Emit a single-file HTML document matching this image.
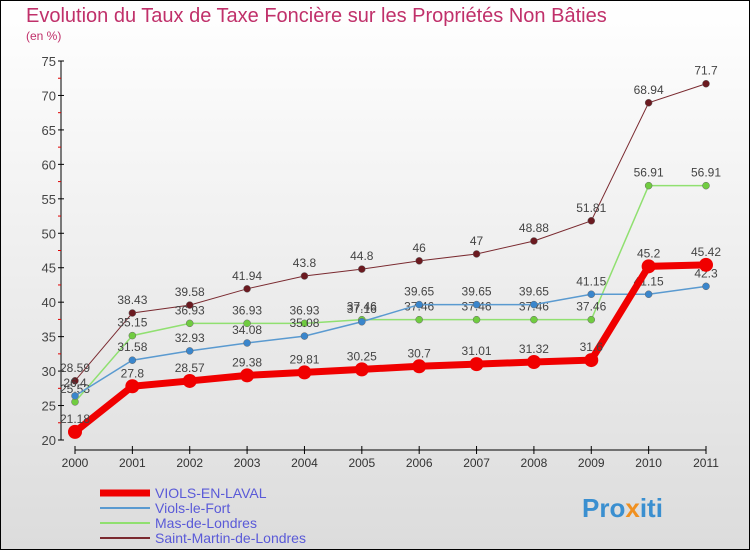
<!DOCTYPE html>
<html><head><meta charset="utf-8"><style>
body{margin:0;width:750px;height:550px;overflow:hidden;font-family:"Liberation Sans",sans-serif}
</style></head><body>
<svg id="c" width="750" height="550" xmlns="http://www.w3.org/2000/svg">
<defs><linearGradient id="bg" x1="0" y1="0" x2="0" y2="1"><stop offset="0" stop-color="#ffffff"/><stop offset="1" stop-color="#dcdcdc"/></linearGradient></defs>
<rect x="0.5" y="0.5" width="749" height="549" fill="url(#bg)" stroke="#000"/>
<text x="26" y="22" font-size="20" fill="#c0306a">Evolution du Taux de Taxe Foncière sur les Propriétés Non Bâties</text>
<text x="26" y="40" font-size="12" fill="#c0306a">(en %)</text>
<g id="axes"></g><g id="series"></g><g id="legend"></g>
<text x="582" y="517" font-size="26" font-weight="bold" fill="#3a8fd0">Pro<tspan fill="#f09020">x</tspan>iti</text>
</svg>
<script>
const years=["2000","2001","2002","2003","2004","2005","2006","2007","2008","2009","2010","2011"];
const yTicks=[20,25,30,35,40,45,50,55,60,65,70,75];
const viols=[21.18,27.8,28.57,29.38,29.81,30.25,30.7,31.01,31.32,31.6,45.2,45.42];
const violsFort=[26.4,31.58,32.93,34.08,35.08,37.16,39.65,39.65,39.65,41.15,41.15,42.3];
const mas=[25.53,35.15,36.93,36.93,36.93,37.46,37.46,37.46,37.46,37.46,56.91,56.91];
const stMartin=[28.59,38.43,39.58,41.94,43.8,44.8,46,47,48.88,51.81,68.94,71.7];
const NS="http://www.w3.org/2000/svg";
const x=i=>75+i*(706-75)/(years.length-1);
const y=v=>440-(v-20)*(440-61)/55;
function mk(t,a,p){const e=document.createElementNS(NS,t);for(const k in a)e.setAttribute(k,a[k]);p.appendChild(e);return e;}
const ax=document.getElementById('axes');
let l=mk('line',{x1:61,y1:61,x2:61,y2:440,stroke:'#000'},ax);

yTicks.forEach((v,i)=>{
 mk('line',{x1:58,x2:64,y1:y(v),y2:y(v),stroke:'#000'},ax);
 if(i<yTicks.length-1) mk('line',{x1:58,x2:61,y1:y(v+2.5),y2:y(v+2.5),stroke:'#e00000'},ax);
 const t=mk('text',{x:56,y:y(v)+5,'text-anchor':'end','font-size':13,fill:'#444'},ax);t.textContent=v;
 
});
l=mk('line',{x1:75,y1:450,x2:706,y2:450,stroke:'#000'},ax);

years.forEach((yr,i)=>{
 mk('line',{x1:x(i),x2:x(i),y1:446,y2:454,stroke:'#000'},ax);
 const t=mk('text',{x:x(i),y:467,'text-anchor':'middle','font-size':12,fill:'#333'},ax);t.textContent=yr;
 
});
const sg=document.getElementById('series');
const defs=[
 {d:stMartin,c:'#7a2a30',f:'#6b1a20',w:1,r:3.5,n:'saint-martin-de-londres'},
 {d:mas,c:'#90e070',f:'#70cc40',w:1.5,r:3.5,n:'mas-de-londres'},
 {d:violsFort,c:'#5a9ad0',f:'#3a86cc',w:1.5,r:3.5,n:'viols-le-fort'},
 {d:viols,c:'#f00000',f:'#f00000',w:7,r:7,n:'viols-en-laval'}];
defs.forEach(s=>{
 const g=mk('g',{},sg);
 const p=mk('polyline',{points:s.d.map((v,i)=>x(i)+','+y(v)).join(' '),fill:'none',stroke:s.c,'stroke-width':s.w},g);
 
 s.d.forEach((v,i)=>{
  const c=mk('circle',{cx:x(i),cy:y(v),r:s.r,fill:s.f,stroke:'#666','stroke-width':s.w>5?0:0.5},g);
  
  const t=mk('text',{x:x(i),y:y(v)-9,'text-anchor':'middle','font-size':12,fill:'#444'},g);t.textContent=v;
  
 });
});
const lg=document.getElementById('legend');
const ents=[['VIOLS-EN-LAVAL','#f00000',7],['Viols-le-Fort','#5a9ad0',2],['Mas-de-Londres','#90e070',2],['Saint-Martin-de-Londres','#7a2a30',2]];
ents.forEach((e,i)=>{
 const g=mk('g',{},lg);
 const yy=493+i*15;
 mk('line',{x1:100,x2:150,y1:yy,y2:yy,stroke:e[1],'stroke-width':e[2]},g);
 const t=mk('text',{x:155,y:yy+5,'font-size':14,fill:'#5a5ad8'},g);t.textContent=e[0];
});
</script>
</body></html>
